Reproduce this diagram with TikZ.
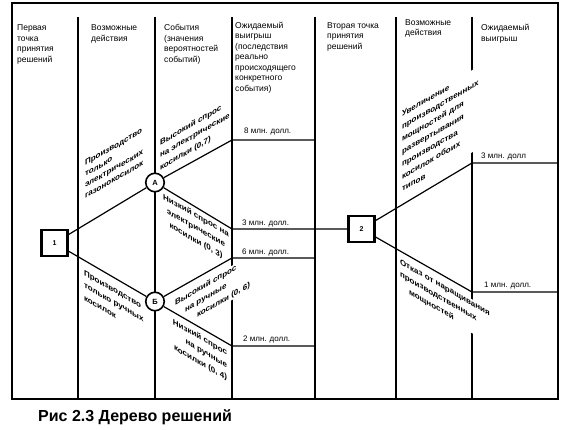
\documentclass[tikz,border=0pt]{standalone}
\usepackage{fontspec}
\setmainfont{Liberation Sans}
\usepackage{tikz}
\usetikzlibrary{positioning}

\tikzset{
  frm/.style={line width=1.4pt},
  col/.style={line width=1.2pt},
  br/.style={line width=1.2pt},
  dec/.style={draw,line width=2.8pt,minimum size=26pt,inner sep=0pt,fill=white,font=\bfseries\fontsize{7}{8}\selectfont},
  chance/.style={draw,circle,line width=1.6pt,minimum size=18.5pt,inner sep=0pt,fill=white,font=\bfseries\fontsize{7.5}{8}\selectfont},
  hdr/.style={anchor=north west,inner sep=0pt,align=left,font=\fontsize{8.5}{10.5}\selectfont},
  lbl/.style={inner sep=0.8pt,fill=white,font=\bfseries\fontsize{8}{12.5}\selectfont},
  pay/.style={anchor=base west,inner sep=0pt,font=\fontsize{8}{10}\selectfont}
}

% slanted branch label: name, x, y, slant, options, text
\newcommand{\slantlbl}[6]{%
  \begin{scope}[shift={(#2,#3)},yslant=#4]
    \node[lbl,transform shape,#5] (#1) at (0,0) {#6};
  \end{scope}}

\begin{document}
\begin{tikzpicture}[x=1pt,y=1pt]
  \useasboundingbox (0,0) rectangle (576,-430);
  % frame and column rules
  \draw[frm] (12,-3) rectangle (558,-399);
  \foreach \cx in {78,155,232,315,396,472} \draw[col] (\cx,-17)--(\cx,-399);
  % column heads
  \node[hdr] (h1) at (17,-24.5) {Первая\\точка\\принятия\\решений};
  \node[hdr] (h2) at (91,-24.5) {Возможные\\действия};
  \node[hdr] (h3) at (164,-24.5) {События\\(значения\\вероятностей\\событий)};
  \node[hdr] (h4) at (235,-21.5) {Ожидаемый\\выигрыш\\(последствия\\реально\\происходящего\\конкретного\\события)};
  \node[hdr] (h5) at (327,-22) {Вторая точка\\принятия\\решений};
  \node[hdr] (h6) at (405,-19) {Возможные\\действия};
  \node[hdr] (h7) at (481,-24) {Ожидаемый\\выигрыш};
  % branch labels
  \slantlbl{optA}{84}{-160}{0.577}{anchor=north west,align=left,font=\bfseries\fontsize{8}{11}\selectfont}{Производство\\только\\электрических\\газонокосилок}
  \slantlbl{optR}{83}{-268}{-0.577}{anchor=north west,align=left}{Производство\\только ручных\\косилок}
  \slantlbl{hiE}{159}{-139}{0.577}{anchor=north west,align=left}{Высокий спрос\\на электрические\\косилки (0,7)}
  \slantlbl{loE}{196}{-211}{-0.577}{anchor=north,align=center}{Низкий спрос на\\электрические\\косилки (0, 3)}
  \slantlbl{hiR}{174}{-299}{0.577}{anchor=north west,align=left}{Высокий спрос\\\hspace{10pt}на ручные\\\hspace{22pt}косилки (0, 6)}
  \slantlbl{loR}{228}{-349}{-0.577}{anchor=north east,align=right}{Низкий спрос\\на ручные\\косилки (0, 4)}
  \slantlbl{grow}{401}{-111}{0.577}{anchor=north west,align=left}{Увеличение\\производственных\\мощностей для\\развертывания\\производства\\косилок обоих\\типов}
  \slantlbl{stay}{399}{-257}{-0.577}{anchor=north west,align=left}{Отказ от наращивания\\производственных\\\hspace{9pt}мощностей}
  % branch ends
  \coordinate (e8) at (232,-140); \coordinate (f8) at (315,-140);
  \coordinate (e3) at (232,-229);
  \coordinate (e6) at (232,-258); \coordinate (f6) at (315,-258);
  \coordinate (e2) at (232,-346); \coordinate (f2) at (315,-346);
  \coordinate (g3) at (472,-163); \coordinate (k3) at (558,-163);
  \coordinate (g1) at (472,-292); \coordinate (k1) at (558,-292);
  % decision and chance nodes
  \node[dec] (d1) at (54.5,-243) {1};
  \node[dec] (d2) at (361.5,-229) {2};
  \node[chance] (cA) at (155,-182.5) {А};
  \node[chance] (cB) at (155,-301.5) {Б};
  \draw[br] (d1)--(cA);
  \draw[br] (d1)--(cB);
  \draw[br] (cA)--(e8)--(f8);
  \draw[br] (cA)--(e3)--(d2);
  \draw[br] (cB)--(e6)--(f6);
  \draw[br] (cB)--(e2)--(f2);
  \draw[br] (d2)--(g3)--(k3);
  \draw[br] (d2)--(g1)--(k1);
  % payoffs
  \node[pay] (p8) at (244,-134) {8 млн. долл.};
  \node[pay] (p3) at (242,-226) {3 млн. долл.};
  \node[pay] (p6) at (242,-255) {6 млн. долл.};
  \node[pay] (p2) at (243,-342) {2 млн. долл.};
  \node[pay] (q3) at (481,-159) {3 млн. долл};
  \node[pay] (q1) at (484,-288) {1 млн. долл.};
  % caption
  \node[anchor=base west,inner sep=0pt,font=\bfseries\fontsize{16}{18}\selectfont] (cap) at (38,-421) {Рис 2.3 Дерево решений};
\end{tikzpicture}
\end{document}
